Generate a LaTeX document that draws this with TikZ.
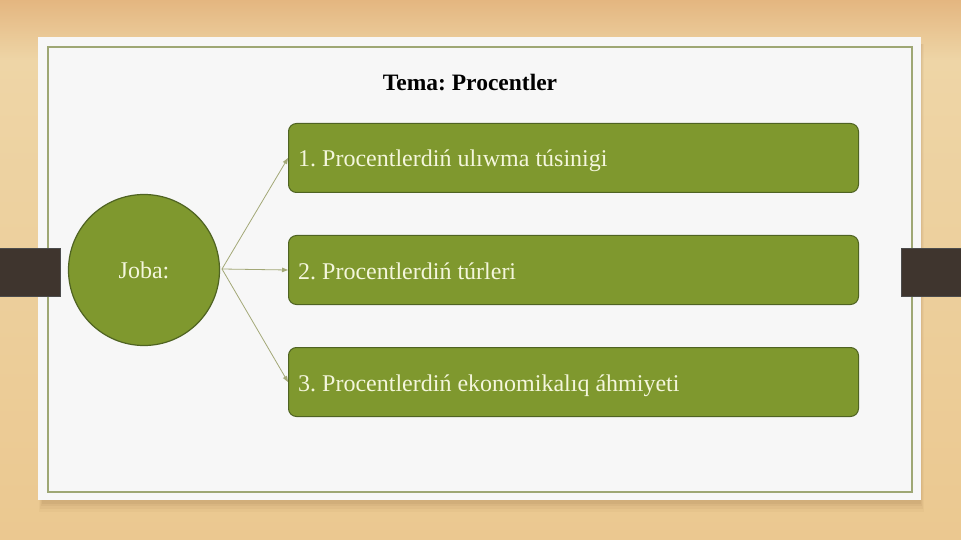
\documentclass[tikz,border=0pt]{standalone}
\usepackage{fontspec}
\setmainfont{Liberation Serif}
\usetikzlibrary{arrows.meta}
\definecolor{woodA}{HTML}{EBC890}
\definecolor{woodB}{HTML}{EED5A6}
\definecolor{woodTop}{HTML}{E4B680}
\definecolor{panel}{HTML}{F7F7F7}
\definecolor{frameline}{HTML}{9EA774}
\definecolor{tab}{HTML}{3F352E}
\definecolor{boxfill}{HTML}{7F982E}
\definecolor{boxline}{HTML}{4F6322}
\definecolor{boxtext}{HTML}{F4F6DC}
\definecolor{arrowc}{HTML}{A3A877}
\tikzset{
  itembox/.style={draw=boxline, line width=1pt, fill=boxfill, rounded corners=8pt,
    minimum width=570pt, minimum height=69pt, inner sep=0pt, anchor=west},
  itemtext/.style={anchor=base west, inner sep=0pt,
    text=boxtext, font=\fontsize{24}{28}\selectfont},
  hub/.style={circle, draw=boxline, line width=1.2pt, fill=boxfill, minimum size=151pt,
    inner sep=0pt, text=boxtext, font=\fontsize{24}{28}\selectfont},
  link/.style={draw=arrowc, line width=0.8pt, -{Triangle[length=6pt,width=4.5pt]}},
  tabbar/.style={fill=tab, draw=black!70, line width=0.6pt}
}
\begin{document}
\frenchspacing
\begin{tikzpicture}[x=1pt,y=-1pt]
\useasboundingbox (0,0) rectangle (961,540);
% wood background
\shade[top color=woodB, bottom color=woodA] (0,60) rectangle (961,540);
\shade[top color=woodTop, bottom color=woodB] (0,0) rectangle (961,60);
% panel shadow
\foreach \d/\o in {9/0.04,6/0.05,3/0.06,1/0.07}{
  \fill[brown!60!black, opacity=\o] (42-\d*0.3,44) rectangle (921+\d*0.3,503+\d);
}
% panel
\fill[panel] (38,37) rectangle (921,500);
\draw[frameline, line width=1.2pt] (48,47) rectangle (912,492);
% side tabs
\draw[tabbar] (-2,248) rectangle (60,296);
\draw[tabbar] (901,248) rectangle (963,296);
% title
\node[font=\bfseries\fontsize{23.5}{27}\selectfont] (title) at (470,83) {Tema: Procentler};
% hub
\node[hub] (joba) at (144,270) {Joba:};
% items
\node[itembox] (b1) at (288,158) {};
\node[itembox] (b2) at (288,270) {};
\node[itembox] (b3) at (288,382) {};
\node[itemtext] (t1) at ([xshift=10pt,yshift=-9pt]b1.west) {1. Procentlerdiń ulıwma túsinigi};
\node[itemtext] (t2) at ([xshift=10pt,yshift=-9pt]b2.west) {2. Procentlerdiń túrleri};
\node[itemtext] (t3) at ([xshift=10pt,yshift=-9pt]b3.west) {3. Procentlerdiń ekonomikalıq áhmiyeti};
% connectors
\coordinate (j) at (222,269);
\draw[link] (j) -- (b1.west);
\draw[link] (j) -- (b2.west);
\draw[link] (j) -- (b3.west);
\end{tikzpicture}
\end{document}
